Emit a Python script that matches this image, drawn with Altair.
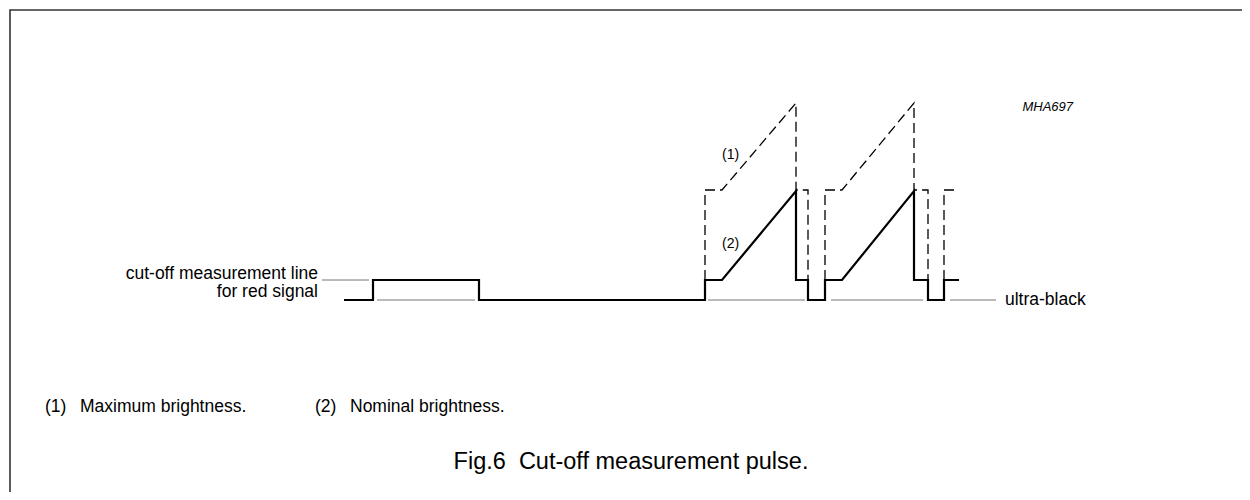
import altair as alt
import pandas as pd

# ---- waveform vertices (x: horizontal position, y: level position, screen-down) ----
solid_x = [344, 373, 373, 479, 479, 705, 705, 722, 796, 796, 808, 808, 825, 825, 842, 914, 914, 928, 928, 944, 944, 959]
solid_y = [300, 300, 280, 280, 300, 300, 280, 280, 191, 280, 280, 300, 300, 280, 280, 191, 280, 280, 300, 300, 280, 280]

dash_x = [[705, 705, 722, 796, 796, 808, 808],
          [825, 825, 842, 914, 914, 928, 928],
          [944, 944, 959]]
dash_y = [[280, 190, 190, 103, 190, 190, 280],
          [280, 190, 190, 103, 190, 190, 280],
          [280, 190, 190]]

# thin reference lines (cut-off level and ultra-black level)
ref_x1 = [322, 377, 708, 831, 950]
ref_x2 = [369, 475, 805, 923, 996]
ref_y = [280, 300, 300, 300, 300]

# frame: left edge and top edge as one path
frame_x = [10, 10, 1242]
frame_y = [492, 10, 10]

# ---- texts ----
right_text = ["cut-off measurement line", "for red signal"]
right_x = [318, 318]
right_y = [274, 292]

left_text = ["ultra-black", "(1)", "Maximum brightness.", "(2)", "Nominal brightness."]
left_x = [1005, 45, 80, 315, 350]
left_y = [300, 407, 407, 407, 407]

small_text = ["(1)", "(2)"]
small_x = [722, 722]
small_y = [155, 244]

code_text = ["MHA697"]
code_x = [1073]
code_y = [107]

title_text = ["Fig.6\u00a0\u00a0Cut-off measurement pulse."]
title_x = [631]
title_y = [462]

FONT = "Liberation Sans"
W, H = 1234, 484

solid_df = pd.DataFrame({"x": solid_x, "y": solid_y, "o": list(range(len(solid_x)))})
rows = []
for i, (px, py) in enumerate(zip(dash_x, dash_y)):
    for j, (a, b) in enumerate(zip(px, py)):
        rows.append({"x": a, "y": b, "g": i, "o": j})
dash_df = pd.DataFrame(rows)
ref_df = pd.DataFrame({"x": ref_x1, "x2": ref_x2, "y": ref_y})
frame_df = pd.DataFrame({"x": frame_x, "y": frame_y, "o": list(range(len(frame_x)))})


def X(f="x"):
    return alt.X(f"{f}:Q", scale=alt.Scale(domain=[8, 8 + W]), axis=None)


def Y(f="y"):
    return alt.Y(f"{f}:Q", scale=alt.Scale(domain=[8, 8 + H], reverse=True), axis=None)


frame = alt.Chart(frame_df).mark_line(color="#333333", strokeWidth=1.6, strokeJoin="miter").encode(
    x=X(), y=Y(), order="o:Q")

refs = alt.Chart(ref_df).mark_rule(color="#777777", strokeWidth=1).encode(
    x=X(), x2="x2:Q", y=Y())

solid = alt.Chart(solid_df).mark_line(color="black", strokeWidth=2.2, strokeJoin="miter").encode(
    x=X(), y=Y(), order="o:Q")

dashed = alt.Chart(dash_df).mark_line(color="black", strokeWidth=1.3, strokeDash=[10, 5]).encode(
    x=X(), y=Y(), detail="g:N", order="o:Q")


def texts(t, x, y, size, align, italic=False):
    df = pd.DataFrame({"x": x, "y": y, "t": t})
    kw = dict(align=align, baseline="middle", font=FONT, fontSize=size, color="black")
    if italic:
        kw["fontStyle"] = "italic"
    return alt.Chart(df).mark_text(**kw).encode(x=X(), y=Y(), text="t:N")


layers = [
    frame, refs, dashed, solid,
    texts(right_text, right_x, right_y, 17.5, "right"),
    texts(left_text, left_x, left_y, 17.5, "left"),
    texts(small_text, small_x, small_y, 14, "left"),
    texts(code_text, code_x, code_y, 13, "right", italic=True),
    texts(title_text, title_x, title_y, 23.5, "center"),
]

chart = alt.layer(*layers).properties(
    width=W, height=H, padding=0, autosize=alt.AutoSizeParams(type="none"),
    background="white"
).configure_view(strokeWidth=0)

chart.save("out.html", embed_options={"renderer": "svg", "actions": False})
